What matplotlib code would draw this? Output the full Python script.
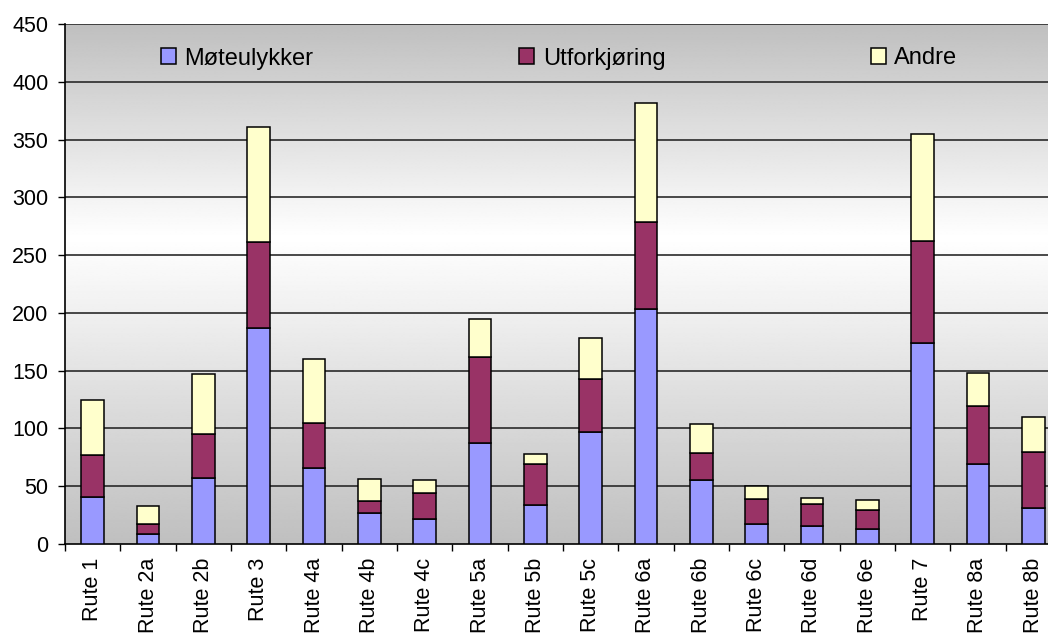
import matplotlib
matplotlib.use("Agg")
import matplotlib.pyplot as plt
import numpy as np
from matplotlib.patches import Patch

plt.rcParams['font.family'] = ['Liberation Sans', 'DejaVu Sans']

categories = ["Rute 1", "Rute 2a", "Rute 2b", "Rute 3", "Rute 4a", "Rute 4b", "Rute 4c",
              "Rute 5a", "Rute 5b", "Rute 5c", "Rute 6a", "Rute 6b", "Rute 6c", "Rute 6d",
              "Rute 6e", "Rute 7", "Rute 8a", "Rute 8b"]
moteulykker = [41, 9, 57, 187, 66, 27, 22, 87, 34, 97, 203, 55, 17, 16, 13, 174, 69, 31]
utforkjoring = [36, 8, 38, 74, 39, 10, 22, 75, 35, 46, 76, 24, 22, 19, 16, 88, 50, 49]
andre = [48, 16, 52, 100, 55, 19, 11, 33, 9, 35, 103, 25, 11, 5, 9, 93, 29, 30]
series_names = ["Møteulykker", "Utforkjøring", "Andre"]
colors = ["#9999FF", "#993366", "#FFFFCC"]
yticks = [0, 50, 100, 150, 200, 250, 300, 350, 400, 450]

W, H = 1048, 634
fig = plt.figure(figsize=(W / 100, H / 100), dpi=100)
ax = fig.add_axes([65 / W, (H - 544) / H, (1061 - 65) / W, (544 - 24) / H])

n = len(categories)
x = np.arange(n)
ax.set_xlim(-0.5, n - 0.5)
ax.set_ylim(0, 450)

# gradient background
yy = np.linspace(0, 450, 400)
center = 265.0
prof = np.where(yy < center, 0.75 + 0.25 * (yy / center), 1.0 - 0.25 * ((yy - center) / (450 - center)))
img = np.repeat(prof[:, None], 2, axis=1)
ax.imshow(img, extent=[-0.5, n - 0.5, 0, 450], origin='lower', cmap='gray', vmin=0, vmax=1,
          aspect='auto', zorder=0, interpolation='bilinear')

for yv in yticks[1:]:
    ax.axhline(yv, color='#2a2a2a', lw=1.2, zorder=1)

bw = 0.41
bottom = np.zeros(n)
handles = []
for vals, col, name in zip([moteulykker, utforkjoring, andre], colors, series_names):
    v = np.array(vals, dtype=float)
    ax.bar(x, v, bw, bottom=bottom, color=col, edgecolor='black', linewidth=1.1, zorder=3)
    bottom += v
    handles.append(Patch(facecolor=col, edgecolor='black', linewidth=1.1, label=name))

ax.set_yticks(yticks)
ax.set_yticklabels([str(t) for t in yticks], fontsize=15.5)
ax.tick_params(axis='y', direction='out', length=5, width=1, pad=7)

ax.set_xticks(np.arange(-0.5, n, 1.0))
ax.set_xticklabels([])
ax.tick_params(axis='x', which='major', direction='out', length=5, width=1)
ax.set_xticks(x, minor=True)
ax.set_xticklabels(categories, minor=True, rotation=90, fontsize=15.5)
ax.tick_params(axis='x', which='minor', length=0, pad=10)

for s in ['top', 'right']:
    ax.spines[s].set_visible(False)
ax.spines['left'].set_linewidth(1.2)
ax.spines['bottom'].set_linewidth(1.2)

leg = fig.legend(handles=handles, loc='center left', bbox_to_anchor=(161 / W, (H - 58.5) / H),
                 ncol=3, frameon=False, fontsize=17, handlelength=0.65, handleheight=0.65,
                 handletextpad=0.35, columnspacing=8.7, borderpad=0, borderaxespad=0)

fig.savefig("out.png", dpi=100)
